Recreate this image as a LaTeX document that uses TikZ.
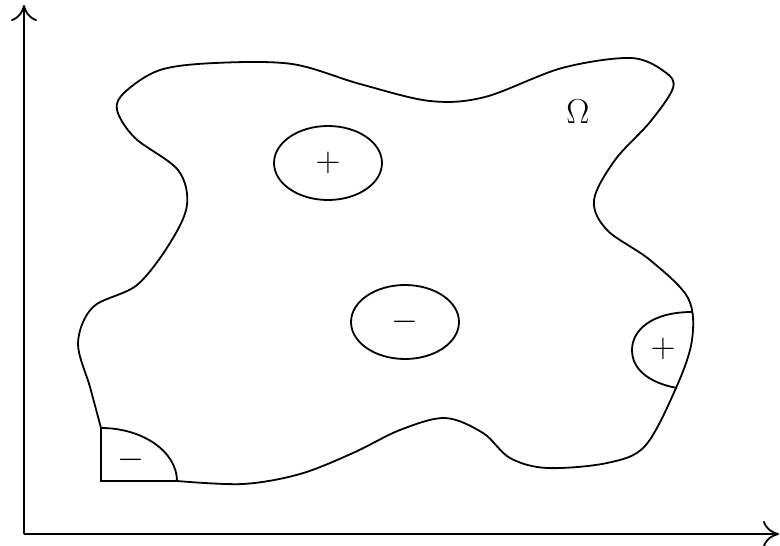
\documentclass[tikz,border=0pt]{standalone}
\usetikzlibrary{arrows.meta}
\begin{document}
\begin{tikzpicture}[x=0.5pt,y=-0.5pt,
  curve/.style={line width=0.9pt},
  axis/.style={line width=0.9pt,-{To[length=8pt,width=13pt]}},
  lbl/.style={font=\fontsize{18}{20}\selectfont,inner sep=0pt}]
\useasboundingbox (0,0) rectangle (780,545);
% axes
\coordinate (O) at (24,534);
\coordinate (ytip) at (24,5);
\coordinate (xtip) at (779,534);
\draw[axis] (O) -- (ytip);
\draw[axis] (O) -- (xtip);
% domain boundary
\coordinate (qa) at (101,428);
\coordinate (qb) at (177,481);
\coordinate (qc) at (101,481);
\draw[curve] plot[smooth,tension=0.55] coordinates {
 (177,481) (243,484) (300,474) (353,453) (400,430) (445,418)
 (483,433) (510,458) (547,468) (607,463) (645,446) (676,388)
 (692,340) (688,298) (650,260) (607,230) (594,200) (615,160)
 (650,122) (673,88) (665,72) (631,58) (562,68) (485,97)
 (430,101) (360,84) (292,64) (215,63) (160,70) (125,92)
 (117,110) (135,138) (178,170) (187,205) (170,243) (137,285)
 (93,307) (78,343) (90,387) (101,428)}
 -- (qc) -- (qb);
% bottom-left quarter region
\draw[curve] (qa) .. controls (143,428) and (177,452) .. (qb);
\node[lbl] (m1) at (131,460) {$-$};
% right half region
\coordinate (ra) at (692,312);
\coordinate (rb) at (677,388);
\draw[curve] (ra) .. controls (652,312) and (632,330) .. (632,350)
  .. controls (632,370) and (650,383) .. (rb);
\node[lbl] (p2) at (663,349) {$+$};
% interior ellipses
\draw[curve] (328,163) ellipse [x radius=27pt, y radius=18.5pt];
\node[lbl] (p1) at (328,163) {$+$};
\draw[curve] (405,322) ellipse [x radius=27pt, y radius=18.5pt];
\node[lbl] (m2) at (405,322) {$-$};
\node[lbl] (om) at (578,112) {$\Omega$};
\end{tikzpicture}
\end{document}
